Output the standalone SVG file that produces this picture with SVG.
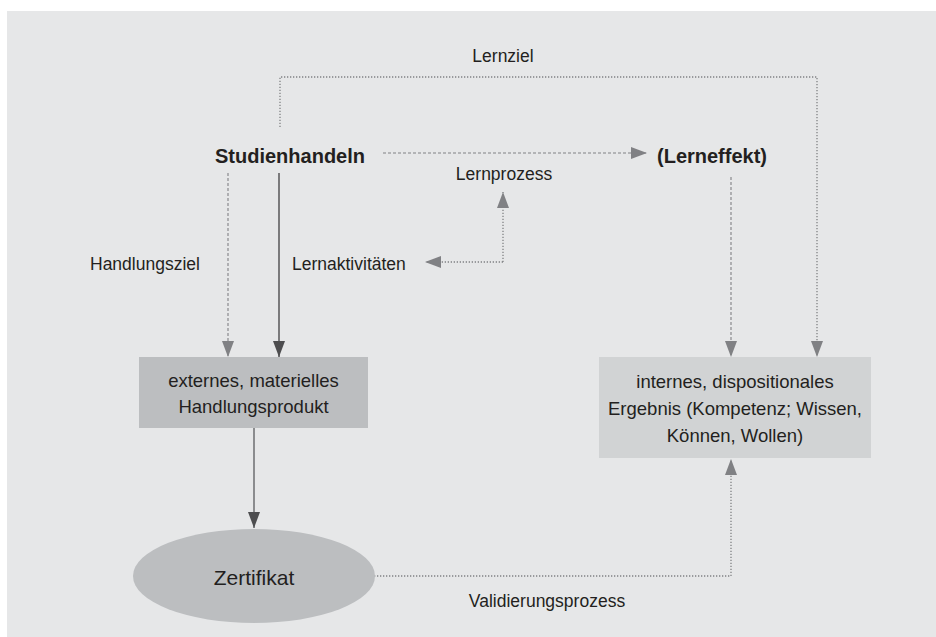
<svg xmlns="http://www.w3.org/2000/svg" width="936" height="637" viewBox="0 0 936 637">
<defs>
<style>
text{font-family:"Liberation Sans",Arial,sans-serif;fill:#231f20}
.lbl{font-size:17.5px}
.bold{font-size:20px;font-weight:bold}
.box{font-size:18.5px}
.dash{fill:none;stroke:#808184;stroke-width:1.1;stroke-dasharray:3 2}
.dot{fill:none;stroke:#808184;stroke-width:1.3;stroke-dasharray:1.3 1.7}
.solid{fill:none;stroke:#414042;stroke-width:1.3}
.solid2{fill:none;stroke:#6d6e71;stroke-width:1.5}
</style>
<marker id="ag" viewBox="0 0 16 12" refX="16" refY="6" markerWidth="16" markerHeight="12" markerUnits="userSpaceOnUse" orient="auto"><path d="M0,0 L16,6 L0,12 Z" fill="#808184"/></marker>
<marker id="ad" viewBox="0 0 16 12" refX="16" refY="6" markerWidth="16" markerHeight="12" markerUnits="userSpaceOnUse" orient="auto"><path d="M0,0 L16,6 L0,12 Z" fill="#4d4d4f"/></marker>
</defs>
<rect x="7" y="11" width="929" height="626" fill="#e6e7e8"/>
<g id="connectors">
<path class="dot" d="M280,127 V77 H817 V357" marker-end="url(#ag)"/>
<path class="dash" d="M383,153 H647" marker-end="url(#ag)"/>
<path class="dash" d="M228,173 V357" marker-end="url(#ag)"/>
<path class="solid" d="M279,173 V357" marker-end="url(#ad)"/>
<path class="dash" d="M731,177 V357" marker-end="url(#ag)"/>
<path class="dot" d="M503,262 V192" marker-end="url(#ag)"/>
<path class="dot" d="M503,262 H425" marker-end="url(#ag)"/>
<path class="solid2" d="M254,428 V528" marker-end="url(#ad)"/>
<path class="dot" d="M374,576 H731 V459" marker-end="url(#ag)"/>
<text class="lbl" x="503" y="62" text-anchor="middle">Lernziel</text>
<text class="lbl" x="504" y="180" text-anchor="middle">Lernprozess</text>
<text class="lbl" x="90" y="270">Handlungsziel</text>
<text class="lbl" x="292" y="270">Lernaktivitäten</text>
<text class="lbl" x="547" y="607" text-anchor="middle">Validierungsprozess</text>
</g>
<g id="studienhandeln"><text class="bold" x="215" y="163">Studienhandeln</text></g>
<g id="lerneffekt"><text class="bold" x="657" y="163">(Lerneffekt)</text></g>
<g id="handlungsprodukt">
<rect x="139" y="357" width="229" height="71" fill="#bcbec0"/>
<text class="box" x="253.5" y="387" text-anchor="middle">externes, materielles</text>
<text class="box" x="253.5" y="413" text-anchor="middle">Handlungsprodukt</text>
</g>
<g id="ergebnis">
<rect x="599" y="357" width="272" height="101" fill="#d1d3d4"/>
<text class="box" x="735" y="388" text-anchor="middle">internes, dispositionales</text>
<text class="box" x="735" y="415" text-anchor="middle">Ergebnis (Kompetenz; Wissen,</text>
<text class="box" x="735" y="442" text-anchor="middle">Können, Wollen)</text>
</g>
<g id="zertifikat">
<ellipse cx="254" cy="576" rx="121" ry="47" fill="#bcbec0"/>
<text x="254" y="585" text-anchor="middle" style="font-size:21px">Zertifikat</text>
</g>
</svg>
